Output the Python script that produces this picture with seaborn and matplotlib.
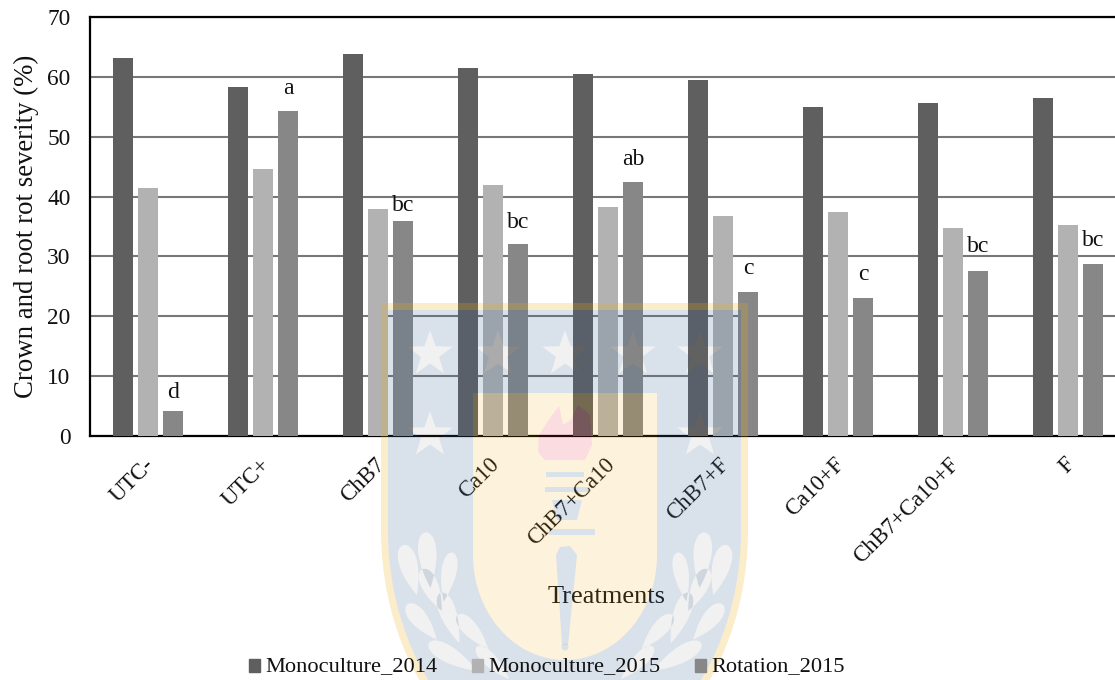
import numpy as np
import pandas as pd
import matplotlib
matplotlib.use('Agg')
import matplotlib.pyplot as plt
from matplotlib.patches import PathPatch, Patch
from matplotlib.path import Path
from matplotlib.transforms import Affine2D, ScaledTranslation
import seaborn as sns

treatments = ['UTC-', 'UTC+', 'ChB7', 'Ca10', 'ChB7+Ca10', 'ChB7+F', 'Ca10+F', 'ChB7+Ca10+F', 'F']
mono_2014 = [63.2, 58.3, 63.8, 61.5, 60.4, 59.5, 55.0, 55.6, 56.5]
mono_2015 = [41.4, 44.6, 38.0, 42.0, 38.2, 36.8, 37.4, 34.7, 35.3]
rotation_2015 = [4.2, 54.3, 36.0, 32.0, 42.5, 24.0, 23.0, 27.6, 28.8]
letters = ['d', 'a', 'bc', 'bc', 'ab', 'c', 'c', 'bc', 'bc']
letter_y = [7.3, 58.1, 38.5, 35.6, 46.2, 28.0, 27.0, 31.6, 32.7]
series_names = ['Monoculture_2014', 'Monoculture_2015', 'Rotation_2015']
series_colors = ['#5f5f5f', '#b2b2b2', '#878787']

sns.set_theme(style='white')
plt.rcParams['font.family'] = ['Liberation Serif', 'DejaVu Serif']
plt.rcParams['text.color'] = '#111111'

W, H = 1115, 680
AX_L, AX_R, AX_T, AX_B = 90, 1125, 17, 436


def ring(pts, hole=False):
    pts = np.asarray(pts, dtype=float)
    x, y = pts[:, 0], pts[:, 1]
    area = np.sum(x * np.roll(y, -1) - np.roll(x, -1) * y)
    if (area > 0) == hole:
        pts = pts[::-1]
    return pts


def compound(rings):
    verts, codes = [], []
    for r in rings:
        verts.extend(r.tolist() + [r[0].tolist()])
        codes.extend([Path.MOVETO] + [Path.LINETO] * (len(r) - 1) + [Path.CLOSEPOLY])
    return Path(verts, codes)


def shield(x0, x1, top, y_round, y_end):
    cx, hw = (x0 + x1) / 2, (x1 - x0) / 2
    t = np.linspace(0, np.pi, 80)
    arc = np.column_stack([cx + hw * np.cos(t), y_round + (y_end - y_round) * np.sin(t)])
    return np.vstack([[[x0, top], [x1, top]], arc])


def star(cx, cy, r):
    a = -np.pi / 2 + np.arange(10) * np.pi / 5
    rad = np.where(np.arange(10) % 2 == 0, r, r * 0.4)
    return np.column_stack([cx + rad * np.cos(a), cy + rad * np.sin(a)])


def leaf(cx, cy, length, width, angle):
    t = np.linspace(0, 2 * np.pi, 24)
    x = length * np.cos(t) / 2
    y = width * np.sin(t) * np.abs(np.sin(t / 2)) / 2
    c, s = np.cos(np.radians(angle)), np.sin(np.radians(angle))
    return np.column_stack([cx + x * c - y * s, cy + x * s + y * c])


def blob(cx, cy, rx, ry):
    t = np.linspace(0, 2 * np.pi, 30)
    return np.column_stack([cx + rx * np.cos(t), cy + ry * np.sin(t)])


def add_watermark(fig):
    # university crest sits over the whole chart, in pixel coordinates
    px = Affine2D().scale(1, -1).translate(0, H)

    def add(rings, color, alpha):
        fig.add_artist(PathPatch(compound(rings), transform=px, facecolor=color,
                                 edgecolor='none', alpha=alpha, zorder=10))

    outer = shield(381, 748, 303, 530, 775)
    field = shield(388, 741, 310, 530, 766)
    panel = shield(473, 657, 393, 555, 660)
    add([ring(outer), ring(field, hole=True)], '#eeaa10', 0.22)

    stars = [star(x, 354, 24) for x in (430, 498, 565, 633, 700)]
    stars += [star(430, 435, 24), star(700, 435, 24)]
    leaves = []
    for x, y, ln, wd, a in [(410, 570, 52, 24, 75), (428, 560, 56, 24, 85), (448, 577, 50, 20, 100),
                            (432, 590, 46, 22, 65), (422, 622, 46, 22, 50), (450, 618, 54, 22, 70),
                            (473, 632, 46, 20, 48), (453, 657, 56, 22, 30), (493, 663, 46, 18, 45)]:
        leaves.append(leaf(x, y, ln, wd, a))
        leaves.append(leaf(1130 - x, y, ln, wd, 180 - a))
    holes = stars + leaves
    add([ring(field), ring(panel, hole=True)] + [ring(h, hole=True) for h in holes], '#41699a', 0.2)
    add([ring(h) for h in holes], '#777777', 0.1)

    torch = [np.array([(546, 472), (584, 472), (584, 477), (546, 477)]),
             np.array([(545, 487), (588, 487), (588, 492), (545, 492)]),
             np.array([(552, 500), (582, 500), (577, 520), (557, 520)]),
             np.array([(549, 529), (595, 529), (595, 535), (549, 535)]),
             np.array([(556, 555), (560, 547), (570, 546), (577, 555), (568, 645), (562, 645)]),
             blob(565, 647, 3.5, 3.5)]
    flame = np.array([(538, 452), (539, 435), (550, 418), (559, 406), (563, 425), (571, 420),
                      (578, 405), (590, 415), (592, 445), (585, 460), (545, 460)])
    add([ring(panel)] + [ring(t, hole=True) for t in torch + [flame]], '#f5a800', 0.14)
    add([ring(t) for t in torch], '#41699a', 0.2)
    add([ring(flame)], '#e8304a', 0.17)


df = pd.DataFrame({
    'treatment': treatments * 3,
    'series': np.repeat(series_names, len(treatments)),
    'severity': mono_2014 + mono_2015 + rotation_2015,
})

fig = plt.figure(figsize=(W / 100, H / 100), dpi=100, facecolor='white')
ax = fig.add_axes([AX_L / W, 1 - AX_B / H, (AX_R - AX_L) / W, (AX_B - AX_T) / H])
sns.barplot(data=df, x='treatment', y='severity', hue='series', order=treatments,
            hue_order=series_names, palette=series_colors, saturation=1,
            width=0.66, gap=0.21, legend=False, ax=ax, zorder=3, linewidth=0, edgecolor='none')

ax.set_xlim(-0.505, 8.495)
ax.set_ylim(0, 70)
ax.set_yticks(range(0, 71, 10))
ax.grid(axis='y', color='#777777', lw=1.5, zorder=0)
ax.set_axisbelow(True)
for side in ax.spines:
    ax.spines[side].set_color('black')
    ax.spines[side].set_linewidth(1.6)
ax.spines['right'].set_visible(False)
ax.tick_params(axis='y', length=0, labelsize=16.8, labelcolor='#111111', pad=14)
ax.tick_params(axis='x', length=0, labelsize=16.4, labelcolor='#111111', pad=13)
shift = ScaledTranslation(-3 / 72, 0, fig.dpi_scale_trans)
for lab in ax.get_xticklabels():
    lab.set_rotation(45)
    lab.set_ha('right')
    lab.set_rotation_mode('anchor')
    lab.set_transform(lab.get_transform() + shift)

# significance letters sit over the rotation bars
rot_x = np.arange(len(treatments)) + 0.22
for x, y, s in zip(rot_x, letter_y, letters):
    ax.text(x, y, s, ha='center', va='center', fontsize=17, zorder=5)

ax.set_xlabel('')
ax.set_ylabel('')
fig.text(26 / W, 1 - 226 / H, 'Crown and root rot severity (%)', rotation=90,
         ha='center', va='center', fontsize=19.3)
fig.text(607 / W, 1 - 597 / H, 'Treatments', ha='center', va='center', fontsize=19)

handles = [Patch(color=c, label=n) for c, n in zip(series_colors, series_names)]
leg = fig.legend(handles=handles, loc='center', bbox_to_anchor=(547 / W, 1 - 666 / H), ncol=3,
                 frameon=False, fontsize=16.1, handlelength=0.49, handleheight=0.49,
                 handletextpad=0.22, columnspacing=1.57, borderpad=0)
leg.set_zorder(11)
for p in leg.get_patches():
    p.set_y(p.get_y() - 2.2)

add_watermark(fig)
fig.savefig('out.png', dpi=100, facecolor='white')
